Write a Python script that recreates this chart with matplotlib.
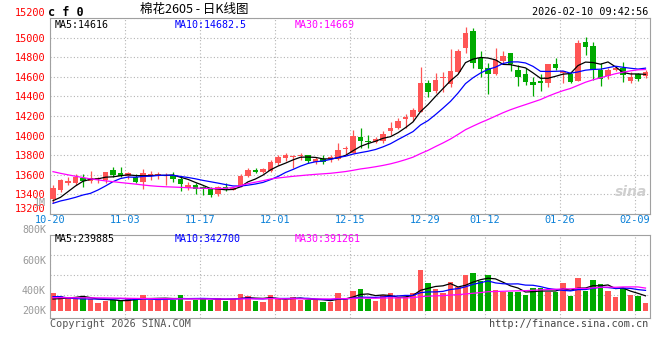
import numpy as np
import pandas as pd
import matplotlib
matplotlib.use('Agg')
import matplotlib.pyplot as plt

plt.rcParams['font.family'] = ['DejaVu Sans Mono', 'Noto Sans CJK SC']

# daily candles 2025-10-20 .. 2026-02-10
opens = [13353, 13445, 13520, 13513, 13570, 13540, 13555, 13545, 13650, 13615,
         13590, 13580, 13530, 13600, 13603, 13592, 13600, 13557, 13462, 13496,
         13480, 13452, 13404, 13480, 13445, 13480, 13588, 13650, 13630, 13640,
         13725, 13775, 13785, 13788, 13800, 13735, 13760, 13760, 13760, 13860,
         13825, 13990, 13950, 13930, 13940, 14042, 14074, 14166, 14186, 14245,
         14540, 14458, 14585, 14530, 14650, 14890, 15072, 14794, 14686, 14628,
         14764, 14845, 14670, 14628, 14550, 14560, 14540, 14730, 14636, 14628,
         14560, 14950, 14915, 14670, 14605, 14665, 14690, 14560, 14628, 14610]
highs = [13496, 13560, 13575, 13612, 13605, 13640, 13580, 13630, 13683, 13683,
         13630, 13610, 13660, 13640, 13625, 13620, 13630, 13580, 13530, 13520,
         13490, 13480, 13490, 13520, 13480, 13605, 13665, 13665, 13665, 13750,
         13805, 13825, 13805, 13820, 13800, 13780, 13800, 13800, 13927, 13893,
         14057, 14080, 14010, 13990, 14045, 14140, 14180, 14217, 14278, 14705,
         14567, 14635, 14650, 14880, 14880, 15105, 15095, 14860, 14743, 14890,
         14860, 14845, 14720, 14686, 14595, 14628, 14730, 14790, 14660, 14650,
         14975, 15010, 14960, 14743, 14690, 14710, 14755, 14650, 14640, 14670]
lows = [13309, 13425, 13496, 13500, 13478, 13520, 13520, 13520, 13575, 13575,
        13557, 13520, 13455, 13550, 13560, 13496, 13530, 13437, 13450, 13404,
        13395, 13377, 13380, 13430, 13440, 13473, 13580, 13615, 13620, 13630,
        13705, 13745, 13670, 13750, 13720, 13710, 13710, 13735, 13750, 13812,
        13820, 13870, 13870, 13925, 13925, 14006, 14067, 14074, 14145, 14245,
        14390, 14430, 14450, 14500, 14640, 14840, 14686, 14600, 14424, 14618,
        14740, 14658, 14505, 14515, 14400, 14458, 14495, 14670, 14540, 14540,
        14560, 14820, 14570, 14505, 14580, 14660, 14550, 14540, 14560, 14585]
closes = [13465, 13547, 13540, 13581, 13537, 13565, 13570, 13625, 13600, 13590,
          13615, 13530, 13620, 13605, 13610, 13600, 13555, 13506, 13496, 13452,
          13455, 13394, 13480, 13455, 13470, 13587, 13649, 13625, 13655, 13735,
          13780, 13800, 13790, 13792, 13745, 13760, 13727, 13785, 13853, 13865,
          13996, 13950, 13930, 13970, 14016, 14080, 14150, 14190, 14261, 14540,
          14440, 14567, 14590, 14660, 14863, 15043, 14745, 14676, 14630, 14771,
          14811, 14730, 14594, 14550, 14516, 14535, 14730, 14694, 14659, 14550,
          14940, 14908, 14670, 14575, 14665, 14690, 14620, 14595, 14575, 14645]
# volume, thousands of lots
volumes = [303, 253, 209, 209, 237, 198, 138, 171, 182, 165,
           209, 209, 264, 182, 182, 220, 182, 264, 171, 182,
           220, 182, 209, 165, 198, 281, 248, 171, 143, 264,
           209, 182, 231, 182, 182, 182, 154, 154, 303, 209,
           336, 363, 198, 165, 264, 291, 209, 237, 291, 677,
           456, 363, 291, 473, 402, 594, 621, 495, 594, 347,
           319, 319, 319, 264, 374, 374, 319, 319, 456, 253,
           539, 330, 512, 440, 330, 237, 374, 264, 253, 126]

# MA values at the left edge (window needs earlier history)
ma5_head = [13336, 13370, 13428, 13486]
ma10_head = [13309, 13333, 13350, 13370, 13394, 13411, 13445, 13486, 13530]
ma30_head = [13632, 13615, 13600, 13585, 13572, 13558, 13548, 13538, 13530, 13521,
             13513, 13505, 13496, 13488, 13482, 13478, 13475, 13472, 13468, 13465,
             13462, 13460, 13460, 13462, 13470, 13490, 13510, 13525, 13540]
vma5_head = [198, 205, 215, 225]
vma10_head = [237, 237, 215, 205, 200, 198, 198, 198, 198]
vma30_head = [220, 220, 219, 219, 218, 218, 217, 216, 214, 212,
              210, 208, 206, 205, 204, 203, 202, 201, 200, 200,
              199, 199, 198, 198, 198, 199, 200, 201, 202]

date_labels = ['10-20', '11-03', '11-17', '12-01', '12-15', '12-29', '01-12', '01-26', '02-09']
date_index = [0, 10, 20, 30, 40, 50, 58, 68, 78]

UP = '#ff5555'
DOWN = '#00aa00'
GRID = '#b4b4b4'
FRAME = '#a0a0a0'


def moving_avg(values, n, head):
    s = pd.Series(values, dtype=float).rolling(n).mean()
    s.iloc[:len(head)] = head
    return s


x = np.arange(len(closes))
o = np.array(opens)
c = np.array(closes)
colors = [UP if cc >= oo else DOWN for oo, cc in zip(o, c)]

fig = plt.figure(figsize=(6.6, 3.6), dpi=100)
ax = fig.add_axes([50 / 660, 1 - 214 / 360, 600 / 660, 196 / 360])
axv = fig.add_axes([50 / 660, 1 - 318 / 360, 600 / 660, 83.5 / 360])

# candles
ax.vlines(x, lows, highs, colors=colors, linewidth=0.9, zorder=2)
body = np.maximum(np.abs(c - o), 9)
ax.bar(x, body, bottom=np.minimum(o, c), width=0.74, color=colors, linewidth=0, zorder=3)

ax.plot(x, moving_avg(closes, 5, ma5_head), color='black', lw=0.9, zorder=4)
ax.plot(x, moving_avg(closes, 10, ma10_head), color='#0000ff', lw=0.9, zorder=4)
ax.plot(x, moving_avg(closes, 30, ma30_head), color='#ff00ff', lw=0.9, zorder=4)

ax.set_xlim(-0.4, 79.6)
ax.set_ylim(13200, 15200)
ax.set_yticks(range(13200, 15201, 200))
ax.set_xticks([i - 0.4 for i in date_index])
ax.set_xticklabels(date_labels)
ax.tick_params(axis='y', length=0, pad=3, labelsize=7.4, labelcolor='#ff0000')
ax.tick_params(axis='x', length=0, pad=1, labelsize=7.4, labelcolor='#0a80d8')
ylab = ax.get_yticklabels()
ylab[0].set_va('bottom')
ylab[-1].set_va('bottom')
ax.grid(True, color=GRID, linestyle=(0, (1, 2)), linewidth=0.8)
ax.set_axisbelow(True)
for sp in ax.spines.values():
    sp.set_color(FRAME)

ax.text(0.008, 0.965, 'MA5:14616', transform=ax.transAxes, fontsize=7.2, color='black', va='center')
ax.text(0.208, 0.965, 'MA10:14682.5', transform=ax.transAxes, fontsize=7.2, color='#0000ff', va='center')
ax.text(0.408, 0.965, 'MA30:14669', transform=ax.transAxes, fontsize=7.2, color='#ff00ff', va='center')
ax.text(0.995, 0.11, 'sina', transform=ax.transAxes, fontsize=10, color='#cfcfcf',
        style='italic', fontweight='bold', family='DejaVu Sans', ha='right', va='center')

# volume
axv.bar(x, volumes, width=0.78, color=colors, linewidth=0, zorder=2)
axv.plot(x, moving_avg(volumes, 5, vma5_head), color='black', lw=0.9, zorder=3)
axv.plot(x, moving_avg(volumes, 10, vma10_head), color='#0000ff', lw=0.9, zorder=3)
axv.plot(x, moving_avg(volumes, 30, vma30_head), color='#ff00ff', lw=0.9, zorder=3)
axv.set_xlim(-0.4, 79.6)
axv.set_ylim(-115, 1262)
axv.set_yticks([264, 594, 924])
axv.set_yticklabels([])
axv.set_xticks([i - 0.4 for i in date_index])
axv.set_xticklabels([])
axv.tick_params(length=0)
axv.grid(True, color=GRID, linestyle=(0, (1, 2)), linewidth=0.8)
axv.set_axisbelow(True)
for sp in axv.spines.values():
    sp.set_color(FRAME)

axv.text(0.008, 0.946, 'MA5:239885', transform=axv.transAxes, fontsize=7.2, color='black', va='center')
axv.text(0.208, 0.946, 'MA10:342700', transform=axv.transAxes, fontsize=7.2, color='#0000ff', va='center')
axv.text(0.408, 0.946, 'MA30:391261', transform=axv.transAxes, fontsize=7.2, color='#ff00ff', va='center')

for lab, ypx in [('1M', 203), ('800K', 230), ('600K', 261), ('400K', 291), ('200K', 311)]:
    fig.text(46 / 660, 1 - ypx / 360, lab, ha='right', va='center', fontsize=7.2, color='#999999')

fig.text(48 / 660, 1 - 12 / 360, 'c f 0', fontsize=8.5, fontweight='bold', va='center')
fig.text(140 / 660, 1 - 10 / 360, '棉花2605 - 日K线图', fontsize=9,
         family=['Noto Sans CJK SC', 'DejaVu Sans'], va='center')
fig.text(648 / 660, 1 - 12 / 360, '2026-02-10 09:42:56', fontsize=7.3, ha='right', va='center')
fig.text(50 / 660, 1 - 324 / 360, 'Copyright 2026 SINA.COM', fontsize=7.3, color='#555555', va='center')
fig.text(648 / 660, 1 - 324 / 360, 'http://finance.sina.com.cn', fontsize=7.3, color='#444444',
         ha='right', va='center')

fig.savefig('out.png', dpi=100)
